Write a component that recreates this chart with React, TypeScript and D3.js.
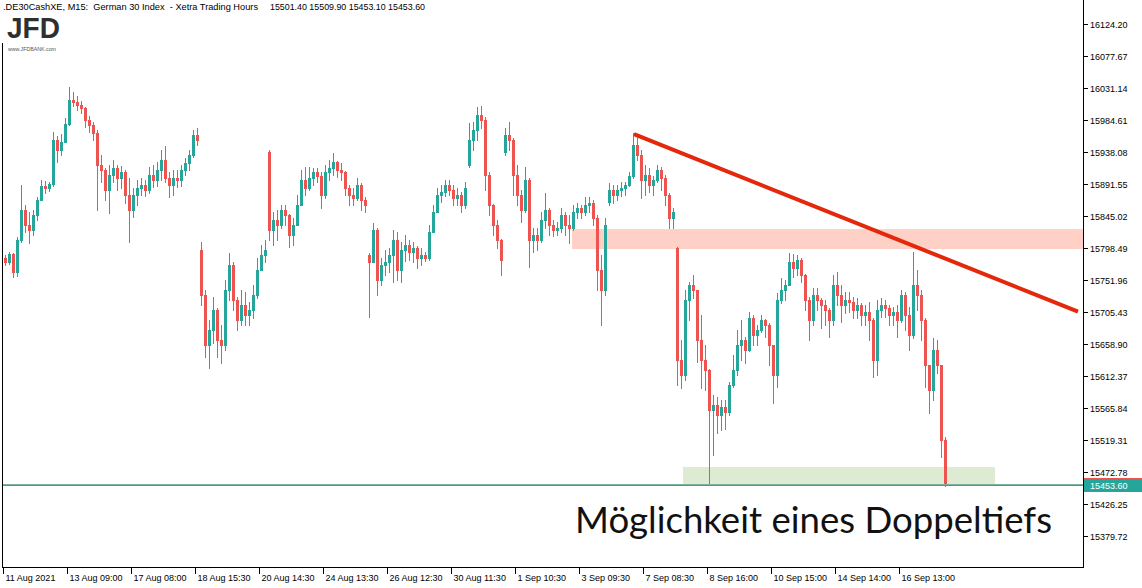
import React from "react";
import * as d3 from "d3";

// ---- data (M15 bars grouped 4 per candle) ----
const BARS_PER_CANDLE = 4;

const opens = [
15784,15778,15790,15764,15810,15854,15832,15825,15847,15868,15889,15886,15892,15956,15941,15953,15979,16014,16011,16006,
16002,15985,15977,15966,15919,15912,15883,15905,15915,15900,15909,15876,15854,15876,15886,15890,15883,15905,15897,15912,
15926,15900,15890,15900,15897,15912,15922,15934,15963,15796,15730,15657,15679,15708,15665,15657,15737,15774,15723,15694,
15716,15701,15708,15730,15767,15788,15938,15825,15839,15832,15854,15847,15817,15832,15861,15897,15886,15900,15909,15903,
15876,15909,15915,15924,15912,15909,15886,15876,15871,15890,15868,15788,15778,15825,15752,15774,15778,15788,15810,15767,
15796,15803,15793,15799,15784,15788,15784,15822,15851,15876,15880,15890,15883,15871,15876,15861,15919,15956,15970,15992,
15985,15905,15861,15832,15810,15938,15963,15956,15905,15876,15854,15897,15810,15817,15810,15839,15854,15832,15825,15828,
15847,15832,15828,15851,15857,15851,15861,15864,15842,15767,15737,15865,15883,15876,15883,15886,15890,15903,15948,15934,
15897,15905,15890,15897,15912,15900,15876,15842,15799,15636,15614,15723,15745,15737,15665,15636,15621,15563,15570,15556,
15567,15560,15599,15621,15657,15665,15650,15697,15672,15679,15694,15687,15657,15614,15723,15737,15745,15778,15769,15781,
15759,15723,15694,15730,15723,15716,15708,15694,15745,15730,15716,15723,15720,15708,15716,15701,15705,15694,15636,15708,
15716,15711,15701,15705,15694,15730,15701,15672,15745,15730,15694,15628,15592,15650,15628,15519
];
const highs = [
15788,15793,15791,15815,15890,15861,15851,15854,15873,15897,15896,15894,15967,15961,15964,15988,16033,16025,16020,16012,
16003,15990,15982,15970,15934,15915,15919,15926,15919,15918,15912,15900,15886,15897,15900,15897,15916,15919,15924,15941,
15947,15909,15912,15912,15919,15929,15941,15970,15973,15807,15737,15694,15727,15711,15687,15752,15791,15778,15727,15737,
15734,15720,15745,15784,15803,15810,15941,15851,15854,15861,15861,15848,15842,15876,15912,15916,15916,15915,15915,15909,
15919,15926,15937,15925,15922,15910,15890,15886,15900,15893,15873,15791,15835,15828,15784,15796,15799,15825,15822,15807,
15817,15810,15807,15801,15799,15793,15832,15861,15886,15890,15897,15897,15890,15886,15880,15894,15980,15982,16004,16005,
15989,15909,15862,15839,15811,15973,15982,15958,15919,15883,15916,15900,15828,15828,15851,15878,15857,15839,15836,15857,
15851,15847,15861,15864,15861,15873,15873,15868,15847,15788,15842,15893,15890,15890,15894,15894,15909,15966,15964,15941,
15919,15915,15903,15919,15916,15905,15878,15857,15800,15665,15737,15749,15759,15738,15701,15657,15622,15585,15582,15578,
15578,15603,15643,15679,15694,15669,15705,15701,15687,15701,15695,15690,15658,15733,15755,15752,15791,15790,15788,15784,
15760,15727,15740,15740,15726,15723,15711,15759,15764,15745,15734,15734,15727,15726,15718,15716,15720,15697,15723,15726,
15723,15716,15713,15716,15737,15734,15713,15793,15767,15737,15697,15629,15668,15665,15629,15524
];
const lows = [
15774,15775,15756,15758,15807,15822,15806,15817,15839,15868,15878,15881,15889,15924,15934,15953,15977,16005,15999,15995,
15974,15967,15956,15854,15894,15868,15849,15894,15883,15886,15864,15807,15844,15861,15876,15874,15878,15887,15889,15897,
15894,15873,15876,15887,15889,15905,15912,15931,15948,15716,15640,15624,15660,15640,15631,15650,15723,15708,15679,15687,
15687,15687,15697,15726,15767,15778,15810,15803,15810,15828,15832,15800,15803,15832,15861,15876,15883,15890,15894,15857,
15871,15897,15905,15902,15897,15876,15861,15861,15868,15854,15851,15698,15778,15730,15745,15759,15764,15749,15752,15749,
15780,15781,15778,15769,15774,15780,15781,15822,15851,15865,15874,15876,15861,15861,15851,15857,15916,15941,15956,15973,
15883,15847,15817,15799,15759,15934,15941,15876,15861,15836,15851,15771,15793,15796,15807,15828,15817,15816,15817,15822,
15817,15806,15825,15842,15842,15847,15851,15832,15737,15687,15730,15861,15864,15868,15874,15876,15889,15900,15926,15871,
15876,15880,15876,15894,15883,15861,15828,15828,15599,15595,15607,15694,15726,15633,15595,15592,15454,15498,15530,15534,
15535,15556,15596,15614,15636,15631,15649,15657,15657,15676,15669,15628,15573,15596,15719,15723,15744,15756,15759,15749,
15708,15665,15687,15708,15682,15687,15669,15687,15716,15691,15704,15705,15697,15697,15687,15687,15665,15611,15614,15698,
15698,15687,15687,15669,15691,15679,15650,15668,15708,15665,15596,15559,15577,15617,15495,15453.1
];
const closes = [
15778,15790,15764,15810,15854,15832,15825,15847,15868,15889,15886,15892,15956,15941,15953,15979,16014,16011,16006,16002,
15985,15977,15966,15919,15912,15883,15905,15915,15900,15909,15876,15854,15876,15886,15890,15883,15905,15897,15912,15926,
15900,15890,15900,15897,15912,15922,15934,15963,15956,15730,15657,15679,15708,15665,15657,15737,15774,15723,15694,15716,
15701,15708,15730,15767,15788,15796,15825,15839,15832,15854,15847,15817,15832,15861,15897,15886,15900,15909,15903,15876,
15909,15915,15924,15912,15909,15886,15876,15871,15890,15868,15861,15778,15825,15752,15774,15778,15788,15810,15767,15796,
15803,15793,15799,15784,15788,15784,15822,15851,15876,15880,15890,15883,15871,15876,15861,15886,15956,15970,15992,15985,
15905,15861,15832,15810,15781,15963,15956,15905,15876,15854,15897,15810,15817,15810,15839,15854,15832,15825,15828,15847,
15832,15828,15851,15857,15851,15861,15864,15842,15767,15737,15832,15883,15876,15883,15886,15890,15903,15948,15934,15897,
15905,15890,15897,15912,15900,15876,15842,15851,15636,15614,15723,15745,15737,15665,15636,15621,15563,15570,15556,15567,
15560,15599,15621,15657,15665,15650,15697,15672,15679,15694,15687,15657,15614,15723,15737,15745,15778,15769,15781,15759,
15723,15694,15730,15723,15716,15708,15694,15745,15730,15716,15723,15720,15708,15716,15701,15705,15694,15636,15708,15716,
15711,15701,15705,15694,15730,15701,15672,15745,15730,15694,15628,15592,15650,15628,15519,15453.6
];

const priceTicks = [16124.2, 16077.67, 16031.14, 15984.61, 15938.08, 15891.55, 15845.02, 15798.49, 15751.96,
  15705.43, 15658.9, 15612.37, 15565.84, 15519.31, 15472.78, 15426.25, 15379.72];

const timeLabels = ["11 Aug 2021", "13 Aug 09:00", "17 Aug 08:00", "18 Aug 15:30", "20 Aug 14:30", "24 Aug 13:30",
  "26 Aug 12:30", "30 Aug 11:30", "1 Sep 10:30", "3 Sep 09:30", "7 Sep 08:30", "8 Sep 16:00", "10 Sep 15:00",
  "14 Sep 14:00", "16 Sep 13:00"];
const timeLabelBars = [0, 64, 128, 192, 256, 320, 384, 448, 512, 576, 640, 704, 768, 832, 896];

const headerTitle = ".DE30CashXE, M15:  German 30 Index  - Xetra Trading Hours";
const headerOHLC = [15501.4, 15509.9, 15453.1, 15453.6];
const lastPrice = 15453.6;

const resistanceZone = { fromBar: 569, top: 15826, bottom: 15797 };
const supportZone = { fromBar: 680, toBar: 992, top: 15480, bottom: 15454 };
const trendLine = { bar1: 631, price1: 15964, bar2: 1075, price2: 15706 };
const annotation = "Möglichkeit eines Doppeltiefs";

const BULL = "#26a69a";
const BEAR = "#ef5350";
const FONT = "'Liberation Sans', Arial, sans-serif";

export default function App() {
  const W = 1142, H = 588;
  const axisX = 1083.5;
  const axisY = 567.5;
  const x = d3.scaleLinear().domain([0, 944]).range([3, 947]);
  const y = d3.scaleLinear().domain([15379.72, 16124.2]).range([536, 24]);

  const candles = opens.map((o, i) => {
    const c = closes[i];
    const cx = Math.round(x(i * BARS_PER_CANDLE + 2));
    const color = c >= o ? BULL : BEAR;
    const yh = Math.round(y(highs[i]));
    const yl = Math.round(y(lows[i]));
    const t = Math.round(Math.min(y(o), y(c)));
    const b = Math.round(Math.max(y(o), y(c)));
    return (
      <g key={i} fill={color}>
        <rect x={cx} y={yh} width={1} height={Math.max(1, yl - yh + 1)} />
        <rect x={cx - 1} y={t} width={3} height={Math.max(1, b - t + 1)} />
      </g>
    );
  });

  const yLast = Math.round(y(lastPrice));

  return (
    <div style={{ position: "absolute", left: 0, top: 0, width: W, height: H, background: "#fff" }}>
      <svg width={W} height={H} style={{ display: "block" }} fontFamily={FONT}>
        <rect x={0} y={0} width={W} height={H} fill="#ffffff" />

        {/* zones */}
        <rect x={x(resistanceZone.fromBar)} y={y(resistanceZone.top)} width={axisX - x(resistanceZone.fromBar)}
          height={y(resistanceZone.bottom) - y(resistanceZone.top)} fill="#ffd0c5" />
        <rect x={x(supportZone.fromBar)} y={y(supportZone.top)} width={x(supportZone.toBar) - x(supportZone.fromBar)}
          height={y(supportZone.bottom) - y(supportZone.top)} fill="#dcebd1" />

        {/* candles */}
        <g shapeRendering="crispEdges">{candles}</g>

        {/* last price line */}
        <line x1={2} x2={axisX} y1={yLast - 0.5} y2={yLast - 0.5} stroke="#7fb2a0" strokeWidth={1} shapeRendering="crispEdges" />
        <line x1={2} x2={axisX} y1={yLast + 0.5} y2={yLast + 0.5} stroke={BULL} strokeWidth={1} shapeRendering="crispEdges" />

        {/* trend line */}
        <line x1={x(trendLine.bar1)} y1={y(trendLine.price1)} x2={x(trendLine.bar2)} y2={y(trendLine.price2)}
          stroke="#e3280c" strokeWidth={4} />

        {/* frame */}
        <g stroke="#000" strokeWidth={1} shapeRendering="crispEdges">
          <line x1={2.5} x2={2.5} y1={43} y2={axisY} />
          <line x1={axisX} x2={axisX} y1={0} y2={axisY + 0.5} />
          <line x1={2} x2={axisX} y1={axisY} y2={axisY} />
        </g>

        {/* right axis */}
        {priceTicks.map((v, i) => {
          const ty = Math.round(y(v)) + 0.5;
          return (
            <g key={i}>
              <line x1={axisX} x2={axisX + 4} y1={ty} y2={ty} stroke="#000" shapeRendering="crispEdges" />
              <text x={1090} y={ty + 3.5} fontSize={9} fill="#000">{v.toFixed(2)}</text>
            </g>
          );
        })}
        <rect x={1084} y={yLast - 6} width={58} height={13} fill={BULL} />
        <line x1={1084} x2={1142} y1={yLast - 6.5} y2={yLast - 6.5} stroke={BEAR} shapeRendering="crispEdges" />
        <text x={1090} y={yLast + 4} fontSize={9} fill="#fff">{lastPrice.toFixed(2)}</text>

        {/* bottom axis */}
        {timeLabelBars.map((b, i) => {
          const tx = Math.round(x(b)) + 0.5;
          return (
            <g key={i}>
              <line x1={tx} x2={tx} y1={axisY} y2={axisY + 6} stroke="#000" shapeRendering="crispEdges" />
              <text x={tx + 2} y={581} fontSize={9} fill="#000">{timeLabels[i]}</text>
            </g>
          );
        })}

        {/* header */}
        <text x={3} y={10} fontSize={9} fill="#000" textLength={255} lengthAdjust="spacingAndGlyphs"
          style={{ whiteSpace: "pre" }}>{headerTitle}</text>
        <text x={270} y={10} fontSize={9} fill="#000" textLength={155} lengthAdjust="spacingAndGlyphs">
          {headerOHLC.map((v) => v.toFixed(2)).join(" ")}
        </text>

        {/* logo */}
        <text x={7} y={37.5} fontSize={29} fontWeight="bold" fill="#2f2f2f" textLength={53}
          lengthAdjust="spacingAndGlyphs">JFD</text>
        <text x={8} y={50.5} fontSize={4.6} fill="#555" textLength={48} lengthAdjust="spacingAndGlyphs">www.JFDBANK.com</text>

        {/* annotation */}
        <text x={575} y={533} fontSize={36} fontFamily="Lato, 'Open Sans', sans-serif" fill="#111"
          textLength={477} lengthAdjust="spacingAndGlyphs">{annotation}</text>
      </svg>
    </div>
  );
}
